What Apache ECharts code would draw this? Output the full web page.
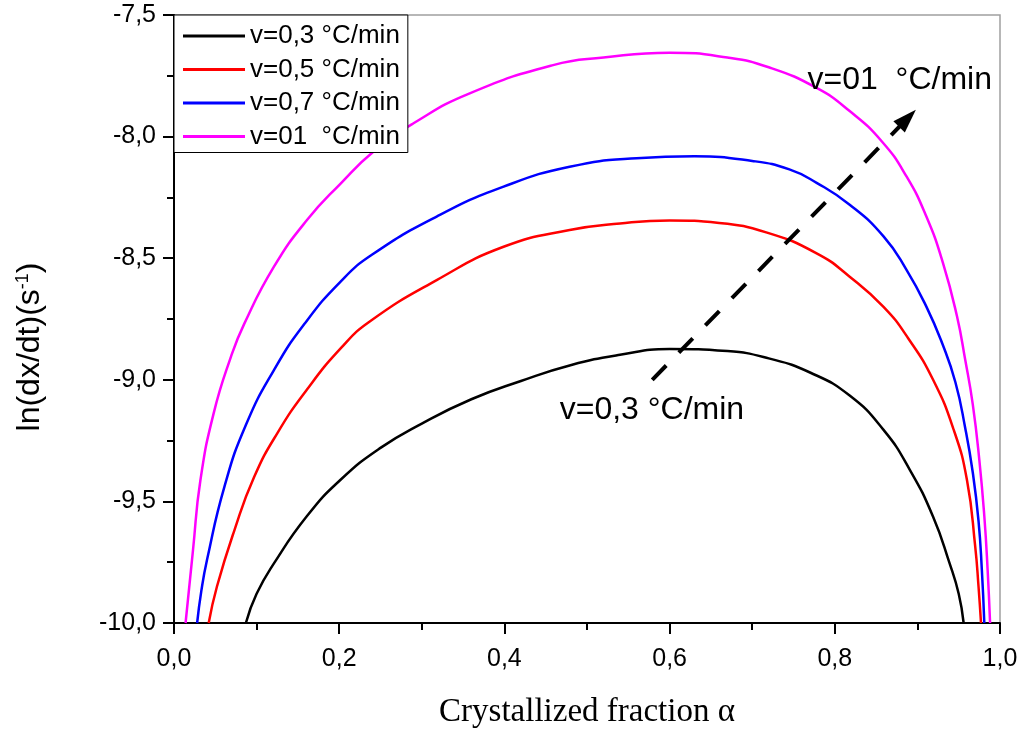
<!DOCTYPE html>
<html>
<head>
<meta charset="utf-8">
<script src="https://cdn.jsdelivr.net/npm/echarts@6/dist/echarts.min.js"></script>
<style>
html,body{margin:0;padding:0;background:#fff;}
#chart{width:1022px;height:731px;}
</style>
</head>
<body>
<div id="chart"></div>
<script>
// ---- data ----
var seriesNames = ['v=0,3 °C/min', 'v=0,5 °C/min', 'v=0,7 °C/min', 'v=01  °C/min'];
var seriesColors = ['#000000', '#ff0000', '#0000ff', '#ff00ff'];

var alpha03 = [0.087, 0.100, 0.121, 0.161, 0.202, 0.250, 0.300, 0.360, 0.420, 0.480, 0.540, 0.600, 0.670, 0.720, 0.770, 0.818, 0.859, 0.891, 0.919, 0.939, 0.950, 0.956];
var lnr03   = [-10.0, -9.88, -9.755, -9.56, -9.41, -9.28, -9.18, -9.08, -9.005, -8.94, -8.897, -8.873, -8.882, -8.912, -8.97, -9.065, -9.206, -9.371, -9.563, -9.755, -9.88, -10.0];

var alpha05 = [0.042, 0.052, 0.073, 0.097, 0.125, 0.161, 0.202, 0.237, 0.318, 0.399, 0.479, 0.540, 0.600, 0.660, 0.718, 0.778, 0.818, 0.859, 0.889, 0.919, 0.944, 0.960, 0.970, 0.974, 0.977];
var lnr05   = [-10.0, -9.85, -9.62, -9.40, -9.22, -9.04, -8.87, -8.76, -8.59, -8.453, -8.384, -8.357, -8.345, -8.355, -8.395, -8.48, -8.576, -8.70, -8.83, -9.0, -9.206, -9.412, -9.686, -9.85, -10.0];

var alpha07 = [0.028, 0.033, 0.040, 0.061, 0.087, 0.121, 0.158, 0.202, 0.240, 0.318, 0.399, 0.479, 0.560, 0.630, 0.700, 0.745, 0.778, 0.818, 0.859, 0.887, 0.911, 0.930, 0.946, 0.958, 0.967, 0.974, 0.978, 0.981];
var lnr07   = [-10.0, -9.87, -9.74, -9.44, -9.186, -8.96, -8.77, -8.595, -8.485, -8.329, -8.206, -8.124, -8.089, -8.081, -8.10, -8.135, -8.19, -8.28, -8.41, -8.549, -8.70, -8.85, -9.01, -9.20, -9.38, -9.58, -9.78, -10.0];

var alpha10 = [0.014, 0.023, 0.032, 0.048, 0.069, 0.085, 0.121, 0.161, 0.202, 0.242, 0.290, 0.358, 0.459, 0.520, 0.600, 0.670, 0.720, 0.778, 0.818, 0.857, 0.887, 0.911, 0.931, 0.948, 0.958, 0.967, 0.975, 0.981, 0.985, 0.988];
var lnr10   = [-10.0, -9.70, -9.412, -9.138, -8.905, -8.77, -8.535, -8.343, -8.192, -8.06, -7.945, -7.822, -7.706, -7.675, -7.655, -7.675, -7.715, -7.80, -7.895, -8.02, -8.165, -8.33, -8.52, -8.74, -8.92, -9.10, -9.33, -9.56, -9.78, -10.0];

var xTicks = [0, 0.2, 0.4, 0.6, 0.8, 1.0];
var yTicks = [-10.0, -9.5, -9.0, -8.5, -8.0, -7.5];

// annotation anchors (data coordinates)
var arrowStart = [0.579, -9.0];
var arrowEnd = [0.888, -7.925];
var labelTop = {text: 'v=01  °C/min', coord: [0.767, -7.767]};
var labelBottom = {text: 'v=0,3 °C/min', coord: [0.467, -9.124]};

function zip(a, b) { return a.map(function (x, i) { return [x, b[i]]; }); }
var allData = [zip(alpha03, lnr03), zip(alpha05, lnr05), zip(alpha07, lnr07), zip(alpha10, lnr10)];

function comma(v) { return v.toFixed(1).replace('.', ','); }

var sans = 'Liberation Sans, Arial, sans-serif';

var series = seriesNames.map(function (name, i) {
  return {
    name: name,
    type: 'line',
    data: allData[i],
    smooth: 0.5,
    symbol: 'none',
    showSymbol: false,
    lineStyle: {color: seriesColors[i], width: 2.5},
    itemStyle: {color: seriesColors[i]},
    z: 3,
    animation: false
  };
});

series.push({
  name: 'annotations',
  type: 'line',
  data: [],
  symbol: 'none',
  animation: false,
  markLine: {
    silent: true,
    symbol: ['none', 'triangle'],
    symbolSize: [16, 24],
    lineStyle: {color: '#000', width: 4, type: [20, 18]},
    itemStyle: {color: '#000'},
    label: {show: false},
    animation: false,
    data: [[{coord: arrowStart}, {coord: arrowEnd}]]
  },
  markPoint: {
    silent: true,
    symbol: 'circle',
    symbolSize: 0,
    animation: false,
    label: {show: true, position: 'right', distance: 0, color: '#000', fontFamily: sans, fontSize: 32},
    data: [
      {coord: labelTop.coord, value: labelTop.text, label: {formatter: labelTop.text}},
      {coord: labelBottom.coord, value: labelBottom.text, label: {formatter: labelBottom.text}}
    ]
  }
});

var chart = echarts.init(document.getElementById('chart'), null, {renderer: 'canvas'});
chart.setOption({
  animation: false,
  backgroundColor: '#fff',
  grid: {left: 174, right: 22, top: 15, bottom: 108, containLabel: false, outerBoundsMode: 'none',
    show: true, borderColor: '#a0a0a0', borderWidth: 1.5, backgroundColor: 'transparent'},
  legend: {
    data: seriesNames,
    orient: 'vertical',
    left: 174, top: 15,
    padding: [8, 8, 3, 9],
    icon: 'rect',
    itemWidth: 62, itemHeight: 3, itemGap: 7.5,
    backgroundColor: '#fff',
    borderColor: '#000', borderWidth: 1,
    textStyle: {color: '#000', fontFamily: sans, fontSize: 26, lineHeight: 24},
    z: 10
  },
  xAxis: {
    type: 'value', min: xTicks[0], max: xTicks[xTicks.length - 1], interval: 0.2,
    name: 'Crystallized fraction α', nameLocation: 'middle', nameGap: 73,
    nameTextStyle: {color: '#000', fontFamily: 'Liberation Serif, Times New Roman, serif', fontSize: 33},
    axisLine: {show: true, onZero: false, lineStyle: {color: '#000', width: 2}},
    axisTick: {show: true, inside: false, length: 11, lineStyle: {color: '#000', width: 2}},
    minorTick: {show: true, splitNumber: 2, length: 7, lineStyle: {color: '#000', width: 2}},
    splitLine: {show: false},
    axisLabel: {color: '#000', fontFamily: sans, fontSize: 25, margin: 24, formatter: function (v) { return comma(v); }}
  },
  yAxis: {
    type: 'value', min: yTicks[0], max: yTicks[yTicks.length - 1], interval: 0.5,
    name: 'ln(dx/dt)(s{sup|-1})', nameLocation: 'middle', nameGap: 128, nameRotate: 90,
    nameTextStyle: {color: '#000', fontFamily: sans, fontSize: 32, padding: [0, 56, 0, 0],
      rich: {sup: {fontFamily: sans, fontSize: 18, verticalAlign: 'top', lineHeight: 16, color: '#000'}}},
    axisLine: {show: true, onZero: false, lineStyle: {color: '#000', width: 2}},
    axisTick: {show: true, inside: false, length: 11, lineStyle: {color: '#000', width: 2}},
    minorTick: {show: true, splitNumber: 2, length: 7, lineStyle: {color: '#000', width: 2}},
    splitLine: {show: false},
    axisLabel: {color: '#000', fontFamily: sans, fontSize: 25, margin: 18, formatter: function (v) { return comma(v); }}
  },
  series: series
});
</script>
</body>
</html>
